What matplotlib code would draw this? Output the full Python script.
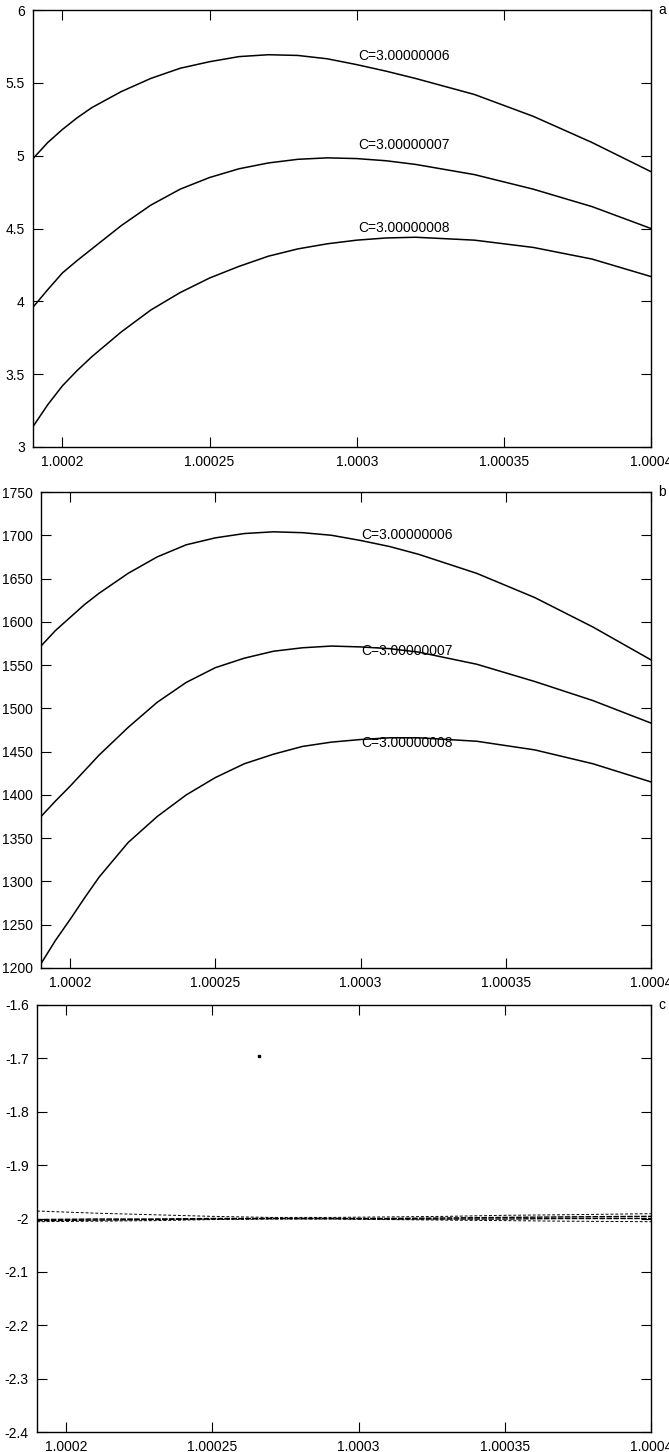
import numpy as np
import matplotlib
matplotlib.use("Agg")
import matplotlib.pyplot as plt

plt.rcParams["font.family"] = ["Liberation Sans", "DejaVu Sans"]

# panel a / b share the same abscissa samples
x_ab = [1.00019, 1.000195, 1.0002, 1.000205, 1.00021, 1.00022, 1.00023, 1.00024,
        1.00025, 1.00026, 1.00027, 1.00028, 1.00029, 1.0003, 1.00031, 1.00032,
        1.00034, 1.00036, 1.00038, 1.0004]

# panel a
a_c6 = [4.98, 5.09, 5.18, 5.26, 5.33, 5.44, 5.53, 5.60, 5.645, 5.68, 5.693, 5.688,
        5.665, 5.625, 5.58, 5.53, 5.42, 5.27, 5.09, 4.89]
a_c7 = [3.96, 4.08, 4.195, 4.28, 4.36, 4.52, 4.66, 4.77, 4.85, 4.91, 4.95, 4.975,
        4.985, 4.98, 4.965, 4.94, 4.87, 4.77, 4.65, 4.50]
a_c8 = [3.14, 3.29, 3.42, 3.525, 3.62, 3.79, 3.94, 4.06, 4.16, 4.24, 4.31, 4.36,
        4.395, 4.42, 4.435, 4.44, 4.42, 4.37, 4.29, 4.17]

# panel b
b_c6 = [1572, 1590, 1605, 1620, 1633, 1656, 1675, 1689, 1697, 1702, 1704, 1703,
        1700, 1694, 1687, 1678, 1656, 1628, 1594, 1556]
b_c7 = [1375, 1393, 1410, 1428, 1446, 1478, 1507, 1530, 1547, 1558, 1566, 1570,
        1572, 1571, 1569, 1565, 1551, 1531, 1509, 1483]
b_c8 = [1205, 1232, 1256, 1281, 1305, 1345, 1375, 1400, 1420, 1436, 1447, 1456,
        1461, 1464, 1466, 1466, 1462, 1452, 1436, 1415]

curve_labels = ["C=3.00000006", "C=3.00000007", "C=3.00000008"]
label_x = 1.000316
a_label_y = [5.685, 5.07, 4.50]
b_label_y = [1700, 1566, 1460]

# panel c: scattered bands around -2
x_c = [1.00019, 1.00021, 1.00023, 1.00025, 1.00027, 1.00029, 1.00031,
       1.00033, 1.00035, 1.00037, 1.0004]
c_upper = [-1.986, -1.990, -1.993, -1.996, -1.998, -1.998, -1.997,
           -1.996, -1.994, -1.993, -1.991]
c_mid = [-2.002, -2.001, -2.001, -2.000, -2.000, -2.000, -2.000,
         -1.999, -1.998, -1.997, -1.996]
c_mid2 = [-2.004, -2.003, -2.002, -2.001, -2.000, -2.000, -2.001,
          -2.001, -2.001, -2.000, -2.000]
c_lower = [-2.006, -2.005, -2.004, -2.002, -2.001, -2.001, -2.002,
           -2.003, -2.004, -2.005, -2.006]
c_stray_x = [1.000266]
c_stray_y = [-1.695]

xticks = [1.0002, 1.00025, 1.0003, 1.00035, 1.0004]
xticklabels = ["1.0002", "1.00025", "1.0003", "1.00035", "1.0004"]

W, H = 669, 1452
fig = plt.figure(figsize=(W / 100, H / 100), dpi=100)


def make_axes(left, top, bottom, right=651):
    return fig.add_axes([left / W, 1 - bottom / H, (right - left) / W, (bottom - top) / H])


def style(ax, yticks, yticklabels, ylim, tag):
    ax.set_xlim(1.00019, 1.0004)
    ax.set_ylim(*ylim)
    ax.set_xticks(xticks)
    ax.set_xticklabels(xticklabels)
    ax.set_yticks(yticks)
    ax.set_yticklabels(yticklabels)
    ax.tick_params(direction="in", top=True, right=True, length=7, width=0.8,
                   labelsize=10, pad=6, colors="black")
    for s in ax.spines.values():
        s.set_linewidth(1.0)
    ax.text(1.012, 1.0, tag, transform=ax.transAxes, fontsize=10, va="center", ha="left")


ax_a = make_axes(33, 10, 447)
for ys in (a_c6, a_c7, a_c8):
    ax_a.plot(x_ab, ys, color="black", lw=1.1)
for lab, ly in zip(curve_labels, a_label_y):
    ax_a.text(label_x, ly, lab, fontsize=10, ha="center", va="center")
style(ax_a, [3, 3.5, 4, 4.5, 5, 5.5, 6], ["3", "3.5", "4", "4.5", "5", "5.5", "6"], (3, 6), "a")

ax_b = make_axes(41, 492, 968)
for ys in (b_c6, b_c7, b_c8):
    ax_b.plot(x_ab, ys, color="black", lw=1.1)
for lab, ly in zip(curve_labels, b_label_y):
    ax_b.text(label_x, ly, lab, fontsize=10, ha="center", va="center")
byt = list(range(1200, 1751, 50))
style(ax_b, byt, [str(v) for v in byt], (1200, 1750), "b")

ax_c = make_axes(37, 1005, 1432)
ax_c.plot(x_c, c_upper, color="black", lw=0.7, ls=(0, (3, 2)))
for ys in (c_mid, c_mid2):
    ax_c.plot(x_c, ys, color="black", lw=1.0, ls=(0, (4, 1)))
ax_c.plot(x_c, c_lower, color="black", lw=0.7, ls=(0, (3, 2)))
ax_c.plot(c_stray_x, c_stray_y, "s", color="black", ms=1.5)
cyt = [-2.4, -2.3, -2.2, -2.1, -2.0, -1.9, -1.8, -1.7, -1.6]
style(ax_c, cyt, ["-2.4", "-2.3", "-2.2", "-2.1", "-2", "-1.9", "-1.8", "-1.7", "-1.6"],
      (-2.4, -1.6), "c")

fig.savefig("out.png", dpi=100)
